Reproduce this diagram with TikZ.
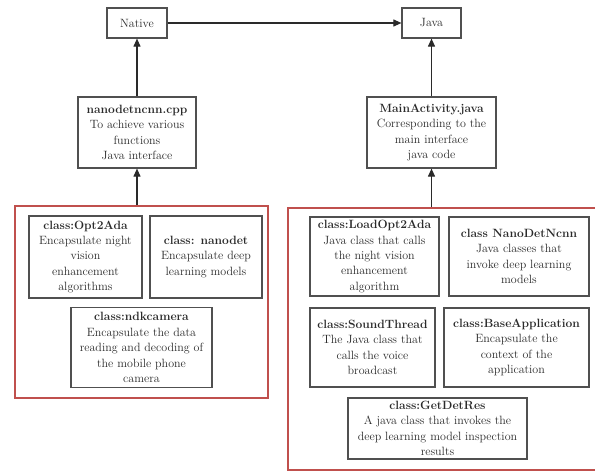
\documentclass[tikz,border=0pt]{standalone}
\usetikzlibrary{arrows.meta}
\definecolor{txt}{HTML}{2A2A2A}
\definecolor{boxc}{HTML}{505050}
\definecolor{redc}{HTML}{C0504D}
\tikzset{
  cbox/.style={draw=boxc, line width=1.2pt, fill=white, inner sep=0pt, align=center, text=txt,
    font=\fontsize{12pt}{15.4pt}\selectfont},
  grp/.style={draw=redc, line width=2.2pt, inner sep=0pt},
  arr/.style={draw=txt, line width=1.1pt, -{Triangle[length=8pt,width=7pt]}}
}
\begin{document}
\begin{tikzpicture}[x=1pt,y=-1pt]
\path[use as bounding box, clip] (0,0) rectangle (595,471);
\fill[white] (0,0) rectangle (595,471);
% groups
\node[grp, minimum width=253pt, minimum height=192pt] (lgrp) at (141.5,302) {};
\node[grp, minimum width=312pt, minimum height=262pt] (rgrp) at (444,339) {};
% top boxes
\node[cbox, minimum width=60pt, minimum height=30pt] (native) at (137,23) {Native};
\node[cbox, minimum width=59pt, minimum height=30pt] (java) at (431.5,23) {Java};
\node[cbox, minimum width=118pt, minimum height=71pt] (nano) at (137,132.5)
  {\textbf{nanodetncnn.cpp}\\To achieve various\\functions\\Java interface};
\node[cbox, minimum width=129pt, minimum height=71pt] (main) at (431.5,132.5)
  {\textbf{MainActivity.java}\\Corresponding to the\\main interface\\java code};
% left group
\node[cbox, minimum width=113pt, minimum height=82pt] (opt) at (85.5,257)
  {\textbf{class:Opt2Ada}\\Encapsulate night\\vision\\enhancement\\algorithms};
\node[cbox, minimum width=112pt, minimum height=82pt] (ndet) at (206,257)
  {\textbf{class: nanodet}\\Encapsulate deep\\learning models};
\node[cbox, minimum width=141pt, minimum height=80pt] (ndk) at (141.5,347.5)
  {\textbf{class:ndkcamera}\\Encapsulate the data\\reading and decoding of\\the mobile phone\\camera};
% right group
\node[cbox, minimum width=129pt, minimum height=79pt] (lopt) at (374.5,256.5)
  {\textbf{class:LoadOpt2Ada}\\Java class that calls\\the night vision\\enhancement\\algorithm};
\node[cbox, minimum width=140pt, minimum height=79pt] (ndn) at (519,256.5)
  {\textbf{class NanoDetNcnn}\\Java classes that\\invoke deep learning\\models};
\node[cbox, minimum width=125pt, minimum height=79pt] (snd) at (372.5,347.5)
  {\textbf{class:SoundThread}\\The Java class that\\calls the voice\\broadcast};
\node[cbox, minimum width=145pt, minimum height=79pt] (base) at (516.5,347.5)
  {\textbf{class:BaseApplication}\\Encapsulate the\\context of the\\application};
\node[cbox, minimum width=179pt, minimum height=61pt] (gdr) at (437.5,428.5)
  {\textbf{class:GetDetRes}\\A java class that invokes the\\deep learning model inspection\\results};
% connectors
\draw[arr] (native.east) -- (java.west);
\draw[arr] (nano.north) -- (native.south);
\draw[arr] (main.north) -- (java.south);
\draw[arr] (nano.south |- lgrp.north) -- (nano.south);
\draw[arr] (main.south |- rgrp.north) -- (main.south);
\end{tikzpicture}
\end{document}
